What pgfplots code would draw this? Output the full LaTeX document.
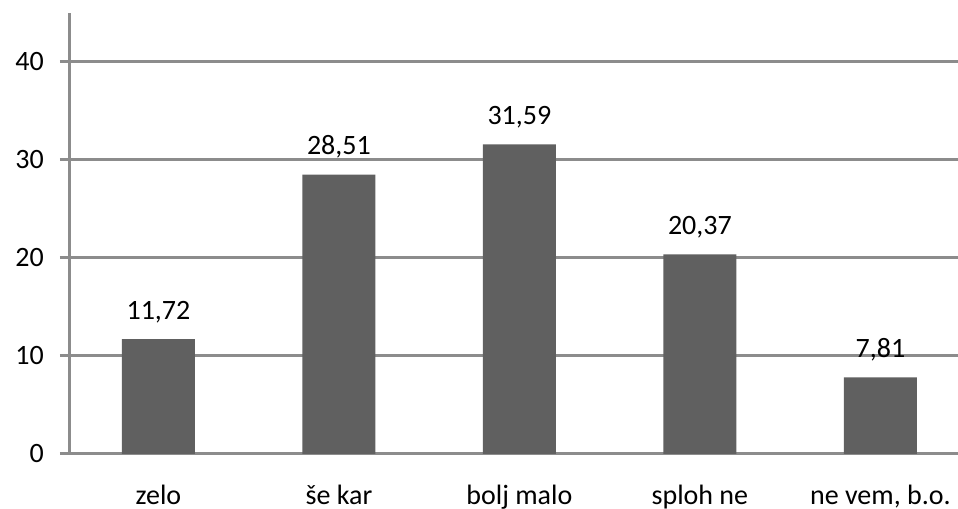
\documentclass[border=0pt]{standalone}
\usepackage{fontspec}
\setmainfont{Carlito}
\usepackage{pgfplots}
\pgfplotsset{compat=1.18}
\usetikzlibrary{calc}
\definecolor{barGray}{RGB}{96,96,96}
\definecolor{gridGray}{RGB}{140,140,140}
\newcommand{\chartfont}{\fontsize{21}{25}\selectfont}

\begin{document}
\begin{tikzpicture}
\begin{axis}[
  scale only axis,
  width=666pt, height=330.75pt,
  xmin=-0.49, xmax=4.43,
  ymin=0, ymax=45,
  ybar, bar width=54.75pt,
  axis lines*=left,
  axis line style={draw=gridGray, line width=2.25pt},
  xtick={0,1,2,3,4},
  xticklabels={zelo, še kar, bolj malo, sploh ne, {ne vem, b.o.}},
  ytick={0,10,20,30,40},
  ymajorgrids,
  grid style={draw=gridGray, line width=2.25pt},
  tick align=outside,
  major tick length=7.5pt,
  ytick style={draw=gridGray, line width=2.25pt},
  xtick style={draw=none},
  tick label style={font=\chartfont, text=black},
  /pgf/number format/assume math mode=true,
  yticklabel style={inner sep=0pt, xshift=-12pt},
  xticklabel style={anchor=base, inner sep=0pt, yshift=-30pt},
  nodes near coords,
  nodes near coords style={font=\chartfont, text=black, anchor=base, inner sep=0pt, yshift=15pt,
    /pgf/number format/.cd, fixed, precision=2, fixed zerofill, use comma, assume math mode=true},
]
  \addplot[fill=barGray, draw=none] coordinates {(0,11.72) (1,28.51) (2,31.59) (3,20.37) (4,7.81)};
\end{axis}
\pgfresetboundingbox
\path ($(current axis.south west)+(-52.5pt,-41.25pt)$) rectangle ($(current axis.north east)+(0,9.75pt)$);
\end{tikzpicture}
\end{document}
